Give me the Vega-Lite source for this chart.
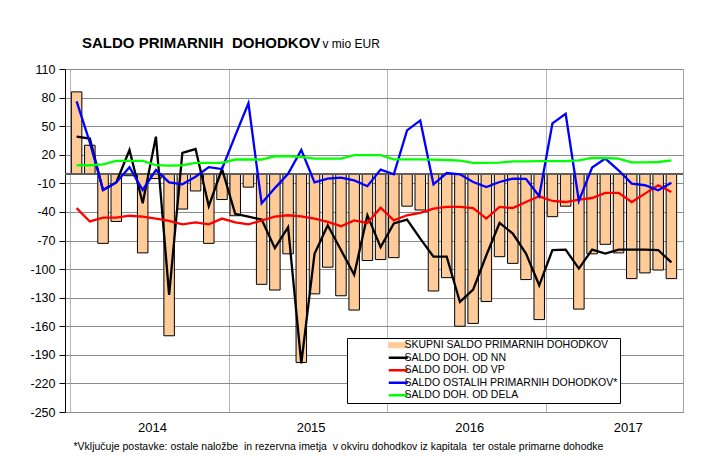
{
  "$schema": "https://vega.github.io/schema/vega-lite/v6.json",
  "width": 618,
  "height": 343,
  "autosize": "none",
  "padding": {"left": 65, "top": 69, "right": 37, "bottom": 63},
  "background": "white",
  "config": {
    "font": "Liberation Sans, Arial, sans-serif",
    "view": {"stroke": "#a0a0a0", "strokeWidth": 1},
    "legend": {
      "orient": "none",
      "legendX": 282,
      "legendY": 269,
      "strokeColor": "black",
      "fillColor": "white",
      "padding": 2,
      "symbolOffset": 44,
      "symbolSize": 361,
      "labelFontSize": 10.5,
      "labelColor": "black",
      "labelOffset": 1,
      "labelLimit": 0,
      "rowPadding": 1.5
    }
  },
  "title": {
    "text": "SALDO PRIMARNIH\u00a0 DOHODKOV",
    "anchor": "start",
    "frame": "group",
    "dx": 17,
    "dy": 14,
    "offset": 0,
    "fontSize": 15,
    "fontWeight": "bold",
    "color": "black"
  },
  "data": {
    "values": [
      {"i": 0, "month": "2014-01", "skupni": 86, "nn": 39, "vp": -36, "ost": 76, "dela": 9},
      {"i": 1, "month": "2014-02", "skupni": 30, "nn": 37, "vp": -50, "ost": 33, "dela": 9},
      {"i": 2, "month": "2014-03", "skupni": -73, "nn": -17, "vp": -46, "ost": -17, "dela": 10},
      {"i": 3, "month": "2014-04", "skupni": -50, "nn": -9, "vp": -46, "ost": -9, "dela": 13.5},
      {"i": 4, "month": "2014-05", "skupni": -2, "nn": 25, "vp": -44, "ost": 7, "dela": 13.5},
      {"i": 5, "month": "2014-06", "skupni": -83, "nn": -31, "vp": -45, "ost": -17, "dela": 13.5},
      {"i": 6, "month": "2014-07", "skupni": -5, "nn": 39, "vp": -47, "ost": 4, "dela": 9},
      {"i": 7, "month": "2014-08", "skupni": -170, "nn": -127, "vp": -49.5, "ost": -9, "dela": 8.5},
      {"i": 8, "month": "2014-09", "skupni": -37, "nn": 22, "vp": -53, "ost": -11, "dela": 9},
      {"i": 9, "month": "2014-10", "skupni": -18, "nn": 26, "vp": -51, "ost": -3, "dela": 11.4},
      {"i": 10, "month": "2014-11", "skupni": -73, "nn": -34, "vp": -53, "ost": 7, "dela": 11.4},
      {"i": 11, "month": "2014-12", "skupni": -27, "nn": 5, "vp": -47, "ost": 5, "dela": 11.4},
      {"i": 12, "month": "2015-01", "skupni": -44, "nn": -42, "vp": -51, "ost": 40, "dela": 15},
      {"i": 13, "month": "2015-02", "skupni": -14, "nn": -45, "vp": -53, "ost": 74, "dela": 15},
      {"i": 14, "month": "2015-03", "skupni": -116, "nn": -48, "vp": -49, "ost": -31, "dela": 15},
      {"i": 15, "month": "2015-04", "skupni": -122, "nn": -78, "vp": -45, "ost": -15, "dela": 18.4},
      {"i": 16, "month": "2015-05", "skupni": -84, "nn": -56, "vp": -43.5, "ost": 0, "dela": 18.4},
      {"i": 17, "month": "2015-06", "skupni": -198, "nn": -199, "vp": -44.6, "ost": 25, "dela": 17.7},
      {"i": 18, "month": "2015-07", "skupni": -126, "nn": -84, "vp": -47, "ost": -9, "dela": 16},
      {"i": 19, "month": "2015-08", "skupni": -98, "nn": -54, "vp": -50.5, "ost": -5, "dela": 16},
      {"i": 20, "month": "2015-09", "skupni": -128, "nn": -80, "vp": -55, "ost": -4, "dela": 16},
      {"i": 21, "month": "2015-10", "skupni": -143, "nn": -106, "vp": -49, "ost": -7, "dela": 19.7},
      {"i": 22, "month": "2015-11", "skupni": -91, "nn": -43.5, "vp": -51.6, "ost": -13, "dela": 19.7},
      {"i": 23, "month": "2015-12", "skupni": -90, "nn": -77, "vp": -35.5, "ost": 4.4, "dela": 19.7},
      {"i": 24, "month": "2016-01", "skupni": -88, "nn": -52, "vp": -48.8, "ost": -0.5, "dela": 15.2},
      {"i": 25, "month": "2016-02", "skupni": -34, "nn": -48, "vp": -43.5, "ost": 45.6, "dela": 15.2},
      {"i": 26, "month": "2016-03", "skupni": -38, "nn": -68, "vp": -41, "ost": 56, "dela": 15.2},
      {"i": 27, "month": "2016-04", "skupni": -123, "nn": -87, "vp": -36.5, "ost": -11, "dela": 14.9},
      {"i": 28, "month": "2016-05", "skupni": -109, "nn": -87, "vp": -34.8, "ost": 0.8, "dela": 14.5},
      {"i": 29, "month": "2016-06", "skupni": -160, "nn": -134.5, "vp": -34.8, "ost": -0.5, "dela": 13.8},
      {"i": 30, "month": "2016-07", "skupni": -157, "nn": -121.5, "vp": -35.9, "ost": -8.6, "dela": 11.4},
      {"i": 31, "month": "2016-08", "skupni": -134, "nn": -85.5, "vp": -47, "ost": -13.8, "dela": 11.4},
      {"i": 32, "month": "2016-09", "skupni": -87, "nn": -51.6, "vp": -34.8, "ost": -8.6, "dela": 11.7},
      {"i": 33, "month": "2016-10", "skupni": -94, "nn": -62.8, "vp": -35.9, "ost": -5, "dela": 13.1},
      {"i": 34, "month": "2016-11", "skupni": -111, "nn": -83.7, "vp": -29.6, "ost": -5.4, "dela": 13.1},
      {"i": 35, "month": "2016-12", "skupni": -153, "nn": -117, "vp": -23.6, "ost": -23.6, "dela": 13.4},
      {"i": 36, "month": "2017-01", "skupni": -45, "nn": -80, "vp": -28.5, "ost": 53, "dela": 13.4},
      {"i": 37, "month": "2017-02", "skupni": -34, "nn": -79.6, "vp": -29.6, "ost": 63, "dela": 13.4},
      {"i": 38, "month": "2017-03", "skupni": -142, "nn": -99.5, "vp": -27, "ost": -28.5, "dela": 14},
      {"i": 39, "month": "2017-04", "skupni": -84, "nn": -79.6, "vp": -25.4, "ost": 6.5, "dela": 16.6},
      {"i": 40, "month": "2017-05", "skupni": -74, "nn": -83.7, "vp": -20, "ost": 16, "dela": 16.6},
      {"i": 41, "month": "2017-06", "skupni": -83, "nn": -79.6, "vp": -20, "ost": 3.7, "dela": 16},
      {"i": 42, "month": "2017-07", "skupni": -110, "nn": -79.6, "vp": -29.6, "ost": -10.3, "dela": 12},
      {"i": 43, "month": "2017-08", "skupni": -104, "nn": -79.6, "vp": -20.8, "ost": -12, "dela": 12},
      {"i": 44, "month": "2017-09", "skupni": -101, "nn": -80, "vp": -12, "ost": -17.3, "dela": 12.4},
      {"i": 45, "month": "2017-10", "skupni": -110, "nn": -93, "vp": -19, "ost": -9.3, "dela": 14}
    ]
  },
  "layer": [
    {
      "mark": {"type": "bar", "size": 10.5, "stroke": "black", "strokeWidth": 1},
      "encoding": {
        "x": {
          "field": "i",
          "type": "quantitative",
          "scale": {"domain": [-0.5, 45.5], "nice": false, "zero": false},
          "axis": {
            "values": [-0.5, 11.5, 23.5, 35.5],
            "tickCount": 30,
            "labelExpr": "datum.value < 11 ? '2014' : datum.value < 23 ? '2015' : datum.value < 35 ? '2016' : '2017'",
            "labelOffset": 82,
            "labelFontSize": 13,
            "labelColor": "black",
            "labelPadding": 9,
            "labelFlush": false,
            "labelOverlap": false,
            "labelBound": false,
            "ticks": false,
            "domain": false,
            "grid": true,
            "gridColor": "#b4b4b4",
            "gridWidth": 1,
            "title": "*Vključuje postavke: ostale naložbe\u00a0 in rezervna imetja\u00a0 v okviru dohodkov iz kapitala\u00a0 ter ostale primarne dohodke",
            "titleFontSize": 10.5,
            "titleFontWeight": "normal",
            "titleColor": "black",
            "titleX": 8,
            "titleY": 37.5,
            "titleAlign": "left",
            "titleBaseline": "alphabetic"
          }
        },
        "y": {
          "field": "skupni",
          "type": "quantitative",
          "scale": {"domain": [-250, 110], "nice": false, "zero": false},
          "axis": {
            "values": [-250, -220, -190, -160, -130, -100, -70, -40, -10, 20, 50, 80, 110],
            "tickCount": 30,
            "labelExpr": "'' + datum.value",
            "labelFontSize": 12.5,
            "labelColor": "black",
            "labelPadding": 4,
            "labelOverlap": false,
            "labelBound": false,
            "labelFlush": false,
            "tickSize": 6,
            "tickColor": "black",
            "domainColor": "black",
            "grid": true,
            "gridColor": "#8c8c8c",
            "gridWidth": 1,
            "title": "v mio EUR",
            "titleAngle": 0,
            "titleX": 257,
            "titleY": -22,
            "titleAlign": "left",
            "titleBaseline": "alphabetic",
            "titleFontSize": 12,
            "titleFontWeight": "normal",
            "titleColor": "black"
          }
        },
        "color": {
          "datum": "skupni",
          "type": "nominal",
          "title": null,
          "scale": {
            "domain": ["skupni", "nn", "vp", "ost", "dela"],
            "range": ["#FFCC99", "#000000", "#FF0000", "#0000FF", "#00FF00"]
          },
          "legend": {
            "title": null,
            "labelExpr": "datum.value === 'skupni' ? 'SKUPNI SALDO PRIMARNIH DOHODKOV' : datum.value === 'nn' ? 'SALDO DOH. OD NN' : datum.value === 'vp' ? 'SALDO DOH. OD VP' : datum.value === 'ost' ? 'SALDO OSTALIH PRIMARNIH DOHODKOV*\u00a0\u00a0\u00a0\u00a0\u00a0\u00a0\u00a0\u00a0\u00a0\u00a0\u00a0\u00a0\u00a0\u00a0\u00a0' : 'SALDO DOH. OD DELA'",
            "encode": {
              "symbols": {
                "update": {
                  "shape": {"signal": "datum.value === 'skupni' ? 'M-1,-0.27H1V0.27H-1Z' : 'stroke'"},
                  "fill": {"signal": "datum.value === 'skupni' ? '#FFCC99' : 'transparent'"},
                  "stroke": {"signal": "datum.value === 'skupni' ? '#000000' : scale('color', datum.value)"},
                  "strokeWidth": {"signal": "datum.value === 'skupni' ? 1 : 2.5"},
                  "opacity": {"value": 1}
                }
              }
            }
          }
        }
      }
    },
    {
      "mark": {"type": "rule", "color": "#606060", "strokeWidth": 1},
      "encoding": {"y": {"datum": 0}}
    },
    {
      "transform": [{"fold": ["nn", "vp", "ost", "dela"], "as": ["key", "value"]}],
      "mark": {"type": "line", "strokeWidth": 2.3},
      "encoding": {
        "x": {"field": "i", "type": "quantitative"},
        "y": {"field": "value", "type": "quantitative"},
        "color": {
          "field": "key",
          "type": "nominal",
          "title": null,
          "legend": {
            "title": null,
            "labelExpr": "datum.value === 'skupni' ? 'SKUPNI SALDO PRIMARNIH DOHODKOV' : datum.value === 'nn' ? 'SALDO DOH. OD NN' : datum.value === 'vp' ? 'SALDO DOH. OD VP' : datum.value === 'ost' ? 'SALDO OSTALIH PRIMARNIH DOHODKOV*\u00a0\u00a0\u00a0\u00a0\u00a0\u00a0\u00a0\u00a0\u00a0\u00a0\u00a0\u00a0\u00a0\u00a0\u00a0' : 'SALDO DOH. OD DELA'",
            "encode": {
              "symbols": {
                "update": {
                  "shape": {"signal": "datum.value === 'skupni' ? 'M-1,-0.27H1V0.27H-1Z' : 'stroke'"},
                  "fill": {"signal": "datum.value === 'skupni' ? '#FFCC99' : 'transparent'"},
                  "stroke": {"signal": "datum.value === 'skupni' ? '#000000' : scale('color', datum.value)"},
                  "strokeWidth": {"signal": "datum.value === 'skupni' ? 1 : 2.5"},
                  "opacity": {"value": 1}
                }
              }
            }
          }
        }
      }
    }
  ]
}
